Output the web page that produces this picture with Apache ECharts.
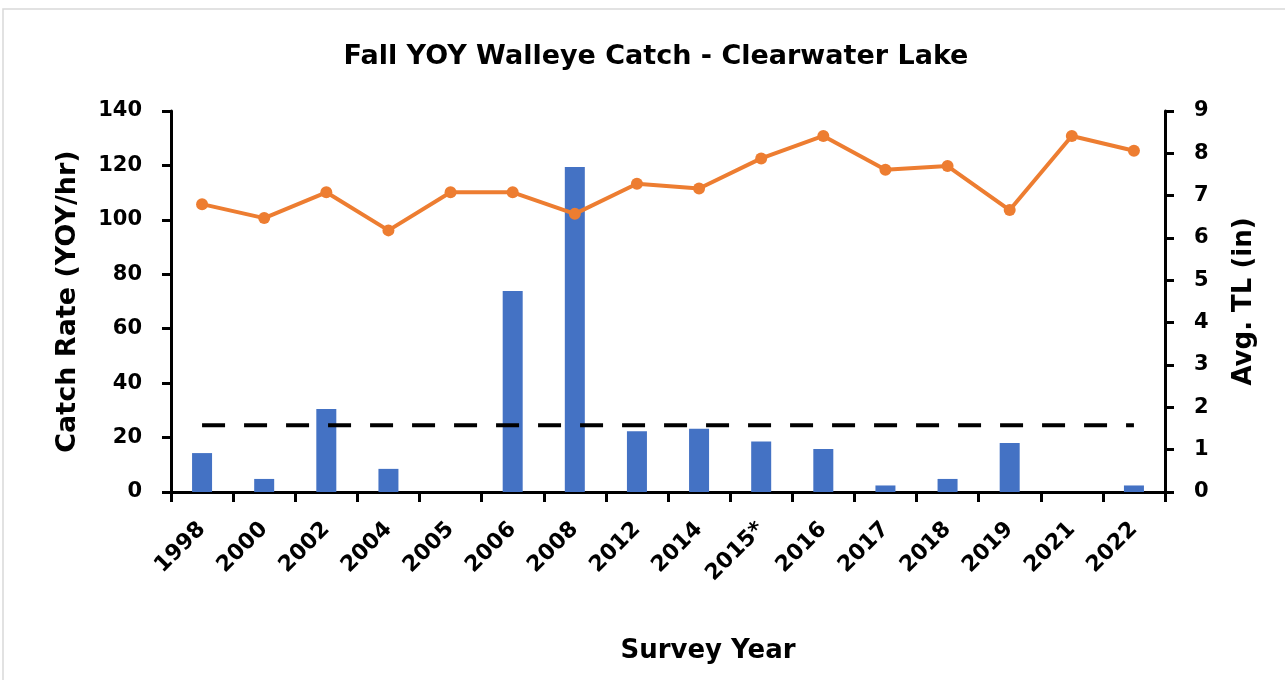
<!DOCTYPE html>
<html>
<head>
<meta charset="utf-8">
<script src="https://cdn.jsdelivr.net/npm/echarts@6/dist/echarts.min.js"></script>
<style>
  html, body { margin: 0; padding: 0; background: #fff; }
  #chart { width: 1285px; height: 680px; }
</style>
</head>
<body>
<div id="chart"></div>
<script>
// 调查年份
var years = ['1998', '2000', '2002', '2004', '2005', '2006', '2008', '2012', '2014', '2015*', '2016', '2017', '2018', '2019', '2021', '2022']
// 捕获率 (YOY/hr)
var catchRate = [14.3, 4.8, 30.5, 8.5, 0, 73.9, 119.4, 22.3, 23.2, 18.6, 15.8, 2.4, 4.8, 18.0, 0, 2.4]
// 平均体长 (in)
var avgTL = [6.80, 6.47, 7.08, 6.18, 7.08, 7.08, 6.57, 7.28, 7.17, 7.88, 8.41, 7.61, 7.70, 6.66, 8.41, 8.06]
// 目标线
var goal = years.map(function () { return 24.5 })

var font = "'DejaVu Sans', sans-serif"

var chart = echarts.init(document.getElementById('chart'))

var option = {
    animation: false,
    backgroundColor: '#fff',
    title: {
        text: 'Fall YOY Walleye Catch - Clearwater Lake',
        left: 651,
        textAlign: 'center',
        top: 38,
        textStyle: { fontFamily: font, fontSize: 27, fontWeight: 'bold', color: '#000' }
    },
    graphic: [{
        type: 'rect',
        shape: { x: 3, y: 9, width: 1300, height: 700 },
        style: { fill: 'none', stroke: '#d9d9d9', lineWidth: 1.5 },
        silent: true
    }],
    grid: { left: 171, right: 120, top: 111, bottom: 188 },
    xAxis: {
        type: 'category',
        data: years,
        name: 'Survey Year',
        nameLocation: 'middle',
        nameGap: 146,
        nameTextStyle: { fontFamily: font, fontSize: 26, fontWeight: 'bold', color: '#000', padding: [0, 0, 0, 80] },
        axisLine: { lineStyle: { color: '#000', width: 3 } },
        axisTick: { show: true, length: 10, lineStyle: { color: '#000', width: 3 } },
        axisLabel: { rotate: 45, margin: 34, fontFamily: font, fontSize: 22, fontWeight: 'bold', color: '#000', interval: 0 }
    },
    yAxis: [{
        type: 'value',
        min: 0, max: 140, interval: 20,
        name: 'Catch Rate (YOY/hr)',
        nameLocation: 'middle',
        nameGap: 90,
        nameRotate: 90,
        nameTextStyle: { fontFamily: font, fontSize: 27, fontWeight: 'bold', color: '#000' },
        axisLine: { show: true, lineStyle: { color: '#000', width: 3 } },
        axisTick: { show: true, length: 9, lineStyle: { color: '#000', width: 3 } },
        axisLabel: { margin: 29, fontFamily: font, fontSize: 21, fontWeight: 'bold', color: '#000' },
        splitLine: { show: false }
    }, {
        type: 'value',
        min: 0, max: 9, interval: 1,
        name: 'Avg. TL (in)',
        nameLocation: 'middle',
        nameGap: 66,
        nameRotate: 90,
        nameTextStyle: { fontFamily: font, fontSize: 26, fontWeight: 'bold', color: '#000' },
        axisLine: { show: true, lineStyle: { color: '#000', width: 3 } },
        axisTick: { show: true, length: 9, lineStyle: { color: '#000', width: 3 } },
        axisLabel: { margin: 29, fontFamily: font, fontSize: 21, fontWeight: 'bold', color: '#000' },
        splitLine: { show: false }
    }],
    series: [{
        name: 'Catch Rate',
        type: 'bar',
        data: catchRate,
        barWidth: 20,
        itemStyle: { color: '#4472C4' }
    }, {
        name: 'Goal',
        type: 'line',
        data: goal,
        symbol: 'none',
        lineStyle: { color: '#000', width: 4, type: [23, 19] },
        z: 3
    }, {
        name: 'Avg. TL',
        type: 'line',
        yAxisIndex: 1,
        data: avgTL,
        symbol: 'circle',
        symbolSize: 12,
        itemStyle: { color: '#ED7D31' },
        lineStyle: { color: '#ED7D31', width: 4 },
        z: 4
    }]
}

chart.setOption(option)
</script>
</body>
</html>
